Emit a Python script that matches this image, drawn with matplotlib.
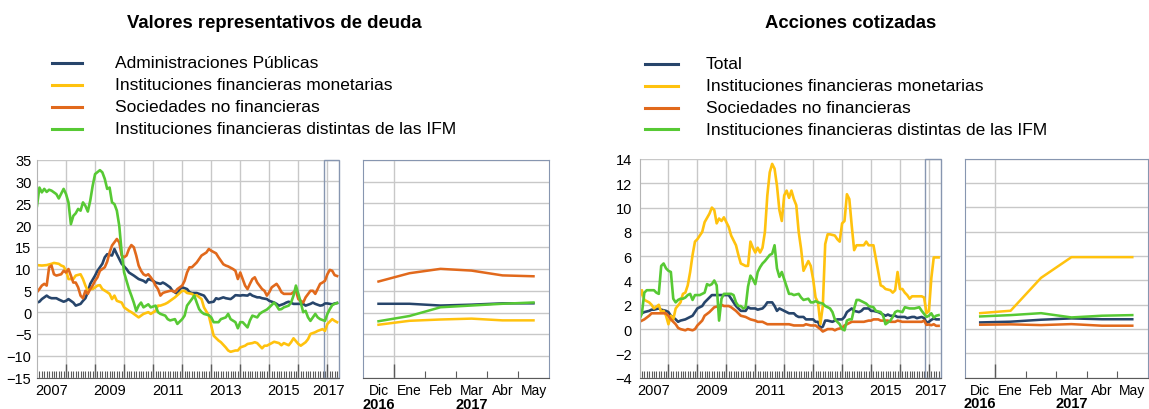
import matplotlib
matplotlib.use("Agg")
import matplotlib.pyplot as plt
import numpy as np
from matplotlib.lines import Line2D

plt.rcParams['font.family'] = ['Liberation Sans', 'DejaVu Sans']

FIG_W, FIG_H = 1149, 410

BLUE = '#27456b'
YELLOW = '#ffc20e'
ORANGE = '#e1691c'
GREEN = '#57c934'
GRID = '#c8c8c8'
BOX = '#8796b0'
AXIS = '#5a5a5a'

# (month, value) pairs, month 0 = Jan 2007 ... month 124 = May 2017

# Valores representativos de deuda
debt_ap = [(0, 2.2), (1, 2.4), (2, 3.0), (4, 3.8), (5, 3.4), (6, 3.2), (8, 3.2), (9, 2.9), (11, 2.4), (12, 2.6),
           (13, 3.0), (15, 2.2), (16, 1.5), (18, 1.9), (19, 2.6), (20, 3.2), (21, 4.6), (22, 6.5), (24, 8.4),
           (25, 9.5), (27, 11.1), (28, 12.6), (29, 13.3), (31, 13.0), (32, 14.5), (33, 13.3), (34, 12.2),
           (35, 11.1), (37, 9.9), (38, 9.1), (40, 8.4), (41, 8.0), (42, 7.6), (44, 7.2), (45, 6.8), (46, 7.6),
           (48, 7.2), (49, 6.8), (51, 6.5), (52, 6.8), (53, 6.5), (55, 5.7), (56, 4.9), (58, 4.2), (59, 5.3),
           (60, 5.7), (62, 5.3), (63, 4.6), (64, 4.4), (66, 4.4), (67, 4.2), (69, 3.8), (70, 3.0), (71, 2.2),
           (73, 2.4), (74, 3.2), (75, 3.0), (77, 3.4), (78, 3.2), (80, 3.0), (81, 3.4), (82, 3.9), (84, 3.8),
           (85, 3.9), (87, 3.8), (88, 4.2), (89, 3.8), (91, 3.4), (92, 3.4), (93, 3.2), (95, 3.0), (96, 2.6),
           (98, 2.2), (99, 1.9), (100, 1.5), (102, 1.9), (103, 2.2), (104, 2.4), (106, 1.9), (107, 1.9),
           (109, 1.9), (110, 1.9), (111, 1.5), (113, 1.9), (114, 2.2), (115, 1.9), (117, 1.5), (118, 1.6),
           (119, 2.0), (120, 2.0), (122, 1.8), (123, 2.0), (124, 2.1)]
debt_ifm = [(0, 10.8), (2, 10.7), (4, 10.8), (6, 11.1), (7, 11.3), (9, 11.1), (10, 10.7), (11, 10.5), (12, 9.5),
            (13, 7.6), (15, 7.6), (16, 8.4), (18, 8.7), (19, 7.6), (20, 6.1), (21, 4.9), (22, 5.3), (23, 5.3),
            (25, 6.1), (26, 6.2), (27, 5.3), (29, 4.6), (30, 4.2), (31, 3.0), (32, 3.8), (33, 2.6), (35, 2.2),
            (36, 1.1), (38, 0.3), (39, 0.0), (40, -0.4), (42, -1.2), (43, -0.8), (44, -0.4), (46, 0.0),
            (47, -0.4), (49, 0.3), (50, 1.5), (51, 1.5), (53, 1.9), (54, 2.2), (55, 2.6), (57, 3.4), (58, 3.9),
            (60, 4.9), (61, 4.9), (62, 4.4), (64, 4.2), (65, 3.8), (66, 3.9), (68, 3.0), (69, 1.1), (71, -0.8),
            (72, -3.1), (73, -5.4), (75, -6.5), (76, -6.9), (78, -8.1), (79, -8.8), (80, -9.1), (82, -8.8),
            (83, -8.8), (84, -8.1), (86, -7.7), (87, -7.3), (89, -7.1), (90, -6.9), (91, -7.1), (93, -8.3),
            (94, -7.7), (95, -7.7), (97, -7.1), (98, -6.8), (100, -7.1), (101, -7.6), (102, -7.1), (104, -7.6),
            (105, -6.9), (106, -6.0), (108, -7.3), (109, -7.7), (111, -6.9), (112, -6.2), (113, -5.0),
            (115, -4.6), (116, -4.3), (118, -3.9), (119, -4.3), (120, -2.7), (122, -1.6), (123, -2.0),
            (124, -2.3)]
debt_snf = [(0, 4.6), (1, 5.3), (2, 6.1), (3, 6.5), (4, 6.1), (5, 10.3), (6, 10.7), (7, 8.7), (8, 8.4),
            (10, 8.7), (11, 9.5), (12, 9.1), (13, 9.9), (14, 8.4), (15, 6.8), (16, 6.8), (17, 5.7), (18, 3.8),
            (19, 3.2), (20, 4.9), (21, 4.2), (22, 5.3), (23, 6.1), (24, 7.2), (25, 8.0), (26, 9.5), (28, 10.3),
            (29, 11.6), (30, 13.7), (31, 15.3), (33, 16.8), (34, 16.0), (35, 13.0), (36, 12.6), (37, 13.0),
            (38, 14.5), (39, 15.4), (40, 14.9), (41, 13.0), (42, 10.7), (43, 9.5), (44, 8.7), (45, 8.4),
            (46, 8.7), (47, 8.0), (48, 7.2), (49, 6.1), (50, 5.3), (51, 3.8), (52, 4.4), (53, 4.6), (55, 4.9),
            (56, 4.9), (57, 4.6), (58, 5.3), (60, 6.1), (61, 7.2), (62, 9.1), (63, 10.3), (64, 10.3), (66, 11.4),
            (67, 12.2), (68, 13.0), (70, 13.7), (71, 14.5), (72, 14.1), (74, 13.5), (75, 12.6), (77, 11.0),
            (78, 10.7), (79, 10.5), (81, 9.9), (82, 9.5), (83, 7.6), (84, 9.1), (85, 7.6), (86, 6.1), (87, 5.3),
            (88, 6.5), (89, 7.6), (90, 8.0), (91, 6.8), (93, 5.3), (94, 4.9), (95, 3.8), (96, 4.6), (97, 5.7),
            (99, 6.5), (100, 5.7), (101, 4.6), (102, 4.2), (104, 4.2), (105, 4.2), (106, 4.6), (107, 4.9),
            (108, 3.0), (110, 2.2), (111, 3.4), (113, 4.9), (114, 4.9), (115, 4.2), (117, 6.5), (118, 6.8),
            (119, 7.2), (120, 8.7), (121, 9.7), (122, 9.5), (123, 8.5), (124, 8.3)]
debt_oifm = [(0, 24.4), (1, 28.6), (2, 27.5), (3, 28.3), (4, 27.6), (5, 28.1), (6, 27.9), (8, 27.1), (9, 26.1),
             (11, 28.3), (12, 27.1), (13, 25.2), (14, 20.2), (15, 22.1), (16, 22.7), (17, 23.7), (18, 23.3),
             (19, 25.2), (20, 24.4), (21, 23.1), (22, 25.6), (23, 29.0), (24, 31.7), (26, 32.6), (27, 32.1),
             (28, 30.6), (29, 28.3), (30, 28.6), (31, 25.2), (32, 24.8), (33, 23.3), (34, 19.8), (35, 13.7),
             (36, 9.1), (38, 5.3), (39, 3.8), (40, 2.2), (41, 0.3), (42, 1.5), (43, 2.2), (44, 1.1), (46, 1.8),
             (47, 1.1), (49, 1.5), (50, 0.0), (51, -0.4), (53, -0.8), (54, -1.6), (55, -1.9), (57, -1.6),
             (58, -2.7), (60, -1.6), (61, -0.8), (62, 1.5), (64, 3.0), (65, 3.8), (66, 2.2), (67, 0.7), (68, 0.0),
             (69, -0.4), (71, -0.7), (72, -1.2), (73, -2.3), (75, -2.3), (76, -1.6), (78, -1.2), (79, -0.4),
             (80, -1.6), (82, -2.3), (83, -3.7), (84, -2.3), (85, -2.3), (87, -3.5), (88, -1.9), (89, -0.8),
             (91, -1.2), (92, -0.4), (93, 0.0), (95, 0.6), (96, 1.1), (98, 2.2), (99, 1.5), (100, 0.6),
             (101, 0.7), (102, 1.1), (104, 1.5), (105, 2.2), (106, 3.8), (107, 6.1), (108, 4.2), (109, 2.2),
             (110, 0.0), (111, 0.3), (112, -1.2), (113, -2.0), (115, -0.4), (116, -1.2), (117, -1.6), (119, -2.0),
             (120, -0.4), (121, 0.7), (122, 1.6), (123, 1.9), (124, 2.1)]

# Acciones cotizadas
eq_total = [(0, 1.0), (1, 1.3), (2, 1.4), (4, 1.5), (5, 1.6), (6, 1.6), (8, 1.7), (9, 1.6), (11, 1.5), (12, 1.4),
            (13, 1.1), (15, 0.8), (16, 0.6), (17, 0.7), (19, 0.8), (20, 0.9), (22, 1.1), (23, 1.4), (24, 1.7),
            (26, 1.9), (27, 2.2), (29, 2.6), (30, 2.8), (31, 2.8), (33, 2.8), (34, 2.8), (35, 2.8), (37, 2.8),
            (38, 2.5), (40, 1.9), (41, 1.7), (42, 1.5), (44, 1.5), (45, 1.8), (46, 1.7), (48, 1.7), (49, 1.6),
            (51, 1.7), (52, 1.9), (53, 2.2), (55, 2.2), (56, 1.9), (57, 1.5), (58, 1.7), (60, 1.5), (61, 1.4),
            (62, 1.3), (64, 1.3), (65, 1.1), (66, 1.0), (68, 1.0), (69, 0.8), (71, 0.8), (72, 0.8), (73, 0.6),
            (74, 0.6), (75, 0.1), (76, 0.2), (77, 0.7), (78, 0.7), (80, 0.6), (81, 0.7), (82, 0.8), (84, 0.8),
            (85, 1.0), (86, 1.4), (88, 1.7), (89, 1.5), (91, 1.4), (92, 1.5), (93, 1.7), (95, 1.7), (96, 1.5),
            (97, 1.5), (99, 1.4), (100, 1.3), (102, 1.1), (103, 1.2), (104, 1.1), (106, 1.1), (107, 1.0),
            (109, 1.0), (110, 1.0), (111, 0.9), (113, 1.0), (114, 1.0), (115, 0.9), (117, 1.0), (118, 0.9),
            (119, 0.54), (120, 0.6), (121, 0.76), (122, 0.87), (123, 0.8), (124, 0.8)]
eq_ifm = [(0, 2.5), (1, 3.2), (2, 2.4), (4, 2.2), (5, 2.0), (6, 1.7), (8, 2.0), (9, 1.4), (10, 1.5), (11, 1.1),
          (12, 0.4), (13, 1.1), (14, 0.8), (15, 1.7), (17, 2.2), (18, 2.9), (19, 3.0), (20, 3.6), (21, 4.7),
          (22, 6.1), (23, 7.2), (24, 7.4), (26, 8.0), (27, 8.8), (29, 9.5), (30, 10.0), (31, 9.8), (32, 8.7),
          (33, 9.1), (34, 8.9), (35, 9.2), (36, 8.8), (37, 8.4), (38, 7.7), (40, 6.9), (41, 6.1), (42, 5.4),
          (44, 5.2), (45, 5.2), (46, 7.2), (47, 6.7), (48, 6.3), (49, 6.7), (50, 6.3), (51, 6.7), (52, 8.0),
          (53, 11.0), (54, 12.9), (55, 13.6), (56, 13.2), (57, 11.8), (58, 9.8), (59, 8.9), (60, 11.0),
          (61, 11.4), (62, 10.8), (63, 11.4), (64, 10.7), (65, 10.2), (66, 8.0), (67, 6.6), (68, 4.8), (69, 5.2),
          (70, 5.6), (71, 5.2), (72, 4.1), (73, 2.6), (74, 2.2), (75, 0.4), (76, 1.9), (77, 7.0), (78, 7.8),
          (79, 7.8), (81, 7.7), (82, 7.4), (83, 7.2), (84, 8.7), (85, 8.9), (86, 11.1), (87, 10.7), (88, 8.5),
          (89, 6.5), (90, 6.9), (91, 6.9), (93, 6.9), (94, 7.2), (95, 6.9), (96, 6.9), (97, 6.9), (98, 5.8),
          (100, 3.6), (101, 3.5), (102, 3.3), (104, 3.2), (105, 3.0), (106, 3.2), (107, 4.7), (108, 3.3),
          (109, 3.3), (110, 3.0), (111, 2.8), (112, 2.5), (113, 2.7), (114, 2.7), (116, 2.7), (117, 2.7),
          (118, 2.6), (119, 1.3), (120, 1.5), (121, 4.2), (122, 5.9), (123, 5.9), (124, 5.9)]
eq_snf = [(0, 0.6), (1, 0.7), (2, 0.8), (4, 1.1), (5, 1.3), (6, 1.3), (8, 1.3), (9, 1.3), (11, 1.3), (12, 1.1),
          (13, 0.8), (15, 0.4), (16, 0.1), (17, 0.0), (19, -0.1), (20, 0.0), (22, -0.1), (23, 0.0), (24, 0.3),
          (26, 0.7), (27, 1.1), (29, 1.4), (30, 1.6), (31, 1.8), (33, 1.9), (34, 2.0), (35, 1.9), (37, 1.9),
          (38, 1.8), (40, 1.5), (41, 1.3), (42, 1.1), (44, 1.0), (45, 0.9), (46, 0.8), (48, 0.7), (49, 0.6),
          (51, 0.6), (52, 0.5), (53, 0.4), (55, 0.4), (56, 0.4), (58, 0.4), (60, 0.4), (61, 0.4), (62, 0.4),
          (64, 0.3), (65, 0.3), (66, 0.3), (68, 0.3), (69, 0.4), (71, 0.3), (72, 0.3), (73, 0.3), (75, 0.0),
          (76, -0.2), (77, -0.1), (78, 0.0), (80, 0.0), (81, -0.1), (82, 0.0), (84, 0.1), (85, 0.3), (86, 0.4),
          (88, 0.6), (89, 0.6), (91, 0.6), (92, 0.6), (93, 0.6), (95, 0.7), (96, 0.7), (97, 0.8), (99, 0.8),
          (100, 0.7), (102, 0.7), (103, 0.7), (104, 0.6), (106, 0.6), (107, 0.7), (109, 0.6), (110, 0.6),
          (111, 0.6), (113, 0.6), (114, 0.6), (115, 0.6), (117, 0.6), (118, 0.7), (119, 0.35), (120, 0.38),
          (121, 0.32), (122, 0.4), (123, 0.27), (124, 0.27)]
eq_oifm = [(0, 0.8), (1, 1.3), (2, 3.0), (3, 3.2), (4, 3.2), (6, 3.2), (7, 3.0), (8, 2.9), (9, 5.2), (10, 5.4),
           (11, 5.0), (12, 4.8), (13, 4.7), (14, 2.5), (15, 2.2), (16, 2.4), (17, 2.5), (18, 2.5), (19, 2.6),
           (20, 2.8), (21, 2.9), (22, 2.4), (23, 2.8), (24, 2.8), (25, 2.8), (26, 2.9), (27, 3.0), (28, 3.7),
           (29, 3.6), (30, 3.7), (31, 4.0), (32, 3.6), (33, 0.7), (34, 2.5), (35, 2.9), (37, 2.9), (38, 2.9),
           (39, 2.8), (40, 2.2), (41, 1.9), (42, 1.9), (43, 1.7), (44, 1.8), (45, 3.5), (46, 4.4), (47, 4.1),
           (48, 3.7), (49, 4.7), (50, 5.1), (51, 5.4), (52, 5.6), (54, 6.1), (55, 6.2), (56, 6.9), (57, 5.0),
           (58, 4.3), (59, 4.7), (60, 4.1), (61, 3.5), (62, 2.9), (63, 2.9), (64, 2.8), (66, 2.9), (67, 2.6),
           (68, 2.4), (70, 2.5), (71, 2.2), (72, 2.2), (73, 2.3), (74, 2.2), (76, 2.1), (77, 1.9), (79, 1.7),
           (80, 1.4), (81, 0.8), (83, 0.4), (84, 0.0), (85, -0.1), (86, 0.7), (87, 0.8), (88, 0.8), (89, 1.7),
           (90, 2.4), (91, 2.4), (93, 2.2), (94, 2.1), (95, 1.9), (97, 1.8), (98, 1.5), (100, 1.4), (101, 1.1),
           (102, 0.4), (104, 0.7), (105, 1.0), (106, 1.4), (107, 1.5), (109, 1.4), (110, 1.8), (112, 1.7),
           (113, 1.7), (114, 1.7), (116, 1.8), (117, 1.5), (119, 1.0), (120, 1.1), (121, 1.3), (122, 0.95),
           (123, 1.1), (124, 1.15)]

# Dic 2016 - May 2017 detail
zoom_months = ['Dic', 'Ene', 'Feb', 'Mar', 'Abr', 'May']
debt_zoom_ap = [2.0, 2.0, 1.6, 1.8, 2.1, 2.1]
debt_zoom_ifm = [-2.8, -1.9, -1.6, -1.4, -1.8, -1.8]
debt_zoom_snf = [7.1, 9.0, 10.0, 9.6, 8.5, 8.3]
debt_zoom_oifm = [-2.0, -0.8, 1.2, 1.6, 2.0, 2.3]
eq_zoom_total = [0.54, 0.6, 0.76, 0.87, 0.8, 0.8]
eq_zoom_ifm = [1.3, 1.5, 4.2, 5.9, 5.9, 5.9]
eq_zoom_snf = [0.35, 0.38, 0.32, 0.4, 0.27, 0.27]
eq_zoom_oifm = [1.03, 1.14, 1.3, 0.95, 1.09, 1.14]

year_labels = ['2007', '2009', '2011', '2013', '2015', '2017']
year_label_pos = [6, 30, 54, 78, 102, 120.5]

debt_labels = ['Administraciones Públicas', 'Instituciones financieras monetarias',
               'Sociedades no financieras', 'Instituciones financieras distintas de las IFM']
eq_labels = ['Total', 'Instituciones financieras monetarias',
             'Sociedades no financieras', 'Instituciones financieras distintas de las IFM']
colors = [BLUE, YELLOW, ORANGE, GREEN]

X_END = 124.8


def px_axes(fig, left, top, right, bottom):
    return fig.add_axes([left / FIG_W, 1 - bottom / FIG_H, (right - left) / FIG_W, (bottom - top) / FIG_H])


def draw_main(ax, series, ylim, ystep, pad):
    for data, c in zip(series, colors):
        m, v = zip(*data)
        ax.plot(m, v, color=c, lw=1.9, solid_joinstyle='round')
    ax.set_xlim(0, X_END)
    ax.set_ylim(*ylim)
    ax.set_yticks(np.arange(ylim[0], ylim[1] + 0.1, ystep))
    ax.set_xticks(np.arange(12, 121, 12))
    ax.set_xticks(np.arange(1, 125), minor=True)
    ax.set_xticklabels([])
    ax.grid(True, which='major', color=GRID, lw=1.0)
    ax.set_axisbelow(True)
    ax.tick_params(axis='y', length=0, pad=pad, labelsize=10.5)
    ax.tick_params(axis='x', which='major', direction='in', length=10, color=AXIS, width=1)
    ax.tick_params(axis='x', which='minor', direction='in', length=5, color=AXIS, width=0.8)
    for s in ['top', 'right']:
        ax.spines[s].set_visible(False)
    ax.spines['left'].set_color('#b4b4b4')
    ax.spines['bottom'].set_color(AXIS)
    ax.axvspan(118.5, X_END, fill=False, edgecolor=BOX, lw=1.0, clip_on=False)
    for lab, pos in zip(year_labels, year_label_pos):
        ax.text(pos, -0.025, lab, transform=ax.get_xaxis_transform(), ha='center', va='top', fontsize=10.5)


def draw_zoom(ax, series, ylim, ystep):
    x = np.arange(len(zoom_months))
    for vals, c in zip(series, colors):
        ax.plot(x, vals, color=c, lw=1.8)
    ax.set_xlim(-0.5, 5.5)
    ax.set_ylim(*ylim)
    ax.set_yticks(np.arange(ylim[0], ylim[1] + 0.1, ystep))
    ax.set_yticklabels([])
    ax.set_xticks([0.5])
    ax.set_xticks([1.5, 2.5, 3.5, 4.5], minor=True)
    ax.set_xticklabels([])
    ax.grid(True, which='major', color=GRID, lw=1.0)
    ax.set_axisbelow(True)
    ax.tick_params(axis='y', length=0)
    ax.tick_params(axis='x', which='major', direction='in', length=10, color=AXIS, width=1)
    ax.tick_params(axis='x', which='minor', direction='in', length=5, color=AXIS, width=0.8)
    for s in ax.spines.values():
        s.set_color(BOX)
    ax.spines['bottom'].set_color(AXIS)
    tr = ax.get_xaxis_transform()
    for i, lab in enumerate(zoom_months):
        ax.text(i, -0.022, lab, transform=tr, ha='center', va='top', fontsize=10)
    ax.text(0, -0.085, '2016', transform=tr, ha='center', va='top', fontsize=10.5, fontweight='bold')
    ax.text(3, -0.085, '2017', transform=tr, ha='center', va='top', fontsize=10.5, fontweight='bold')


def draw_legend(fig, x_line, x_text, labels, baselines):
    for lab, c, yb in zip(labels, colors, baselines):
        yl = 1 - (yb - 4.5) / FIG_H
        fig.add_artist(Line2D([x_line[0] / FIG_W, x_line[1] / FIG_W], [yl, yl], color=c, lw=2.2))
        fig.text(x_text / FIG_W, 1 - yb / FIG_H, lab, fontsize=12.5, va='baseline')


fig = plt.figure(figsize=(FIG_W / 100, FIG_H / 100), dpi=100)

ax1 = px_axes(fig, 37, 160.7, 339, 378.5)
draw_main(ax1, [debt_ap, debt_ifm, debt_snf, debt_oifm], (-15, 35), 5, 4)
ax2 = px_axes(fig, 363, 160.7, 549, 379)
draw_zoom(ax2, [debt_zoom_ap, debt_zoom_ifm, debt_zoom_snf, debt_zoom_oifm], (-15, 35), 5)

ax3 = px_axes(fig, 639.5, 160, 940.5, 378.7)
draw_main(ax3, [eq_total, eq_ifm, eq_snf, eq_oifm], (-4, 14), 2, 5.5)
ax4 = px_axes(fig, 965, 159.5, 1147.5, 378.7)
draw_zoom(ax4, [eq_zoom_total, eq_zoom_ifm, eq_zoom_snf, eq_zoom_oifm], (-4, 14), 2)

fig.text(274 / FIG_W, 1 - 27.5 / FIG_H, 'Valores representativos de deuda', ha='center', va='baseline',
         fontsize=13.3, fontweight='bold')
fig.text(851 / FIG_W, 1 - 28 / FIG_H, 'Acciones cotizadas', ha='center', va='baseline',
         fontsize=13.3, fontweight='bold')

draw_legend(fig, (52, 82), 115, debt_labels, [68, 90.5, 112.3, 134])
draw_legend(fig, (645, 678), 706, eq_labels, [69, 91.3, 113, 134.8])

fig.savefig('out.png', dpi=100)
